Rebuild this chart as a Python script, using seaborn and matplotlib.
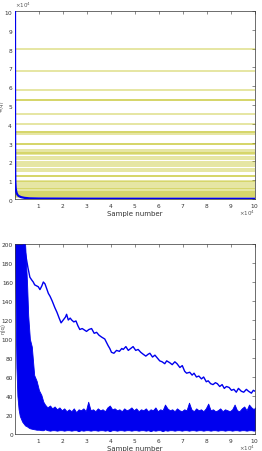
import numpy as np
import pandas as pd
import matplotlib
matplotlib.use("Agg")
import matplotlib.pyplot as plt
import seaborn as sns

sns.set_theme(style="white")
plt.rcParams['font.family'] = ['DejaVu Sans']

# ---------------- data ----------------
# top panel: constant levels (yellow traces), in raw units
top_levels = [80000, 68100, 58100, 52600, 52600, 45100, 40000, 35700, 34700, 29200,
              29200, 25200, 23800, 22400, 19900, 17800, 15800, 15000, 12500, 12500,
              9500, 8100, 6700, 5500, 4200, 3000, 1900, 900, 2600, 24500, 35700,
              1400, 3500, 6100, 8800, 18600, 21500, 25800]
# top panel: fast decaying blue trace
top_blue_x = [0, 30, 80, 150, 300, 600, 1000, 1500, 2500, 4000, 6000, 10000, 30000, 60000, 100000]
top_blue_y = [120000, 40000, 15000, 9000, 5500, 3500, 2300, 1600, 1000, 600, 350, 250, 180, 150, 130]

# bottom panel: slow trace
slow_x = [3700, 4500, 5400, 6200, 7000, 7600, 8200, 9700, 10400, 11200, 11800, 12500, 13200, 13900,
          14600, 15500, 16600, 17500, 18400, 19200, 20100, 21000, 21500, 22200, 23000, 23600, 24500,
          25400, 26200, 27000, 28000, 29800, 30800, 31900, 33000, 34000, 35000, 36100, 37400, 38000,
          38800, 39500, 40200, 41200, 42300, 43500, 44500, 45100, 46200, 47200, 48200, 49200, 50300,
          51300, 52400, 53400, 54500, 55500, 56200, 57300, 58300, 59300, 60300, 61300, 62400, 63200,
          64500, 65500, 66600, 67500, 68700, 69700, 70700, 71500, 72800, 73800, 74600, 75600, 76600,
          77700, 78600, 79700, 80500, 81500, 82500, 83500, 84300, 85300, 86300, 87200, 88100, 89200,
          90200, 91200, 92200, 93100, 94300, 95300, 96400, 97300, 98500, 99300, 100000]
slow_y = [200, 188, 175, 165, 162, 160, 157, 155, 152, 156, 160, 158, 153, 148,
          145, 140, 133, 128, 122, 117, 120, 123, 126, 120, 122, 120, 118,
          119, 114, 110, 111, 108, 110, 111, 106, 107, 104, 102, 100, 97,
          93, 90, 86, 85, 88, 87, 90, 89, 92, 88, 90, 92, 88,
          89, 86, 84, 82, 84, 85, 81, 83, 80, 77, 76, 74, 77,
          75, 73, 76, 74, 70, 72, 66, 64, 65, 62, 64, 60, 61,
          58, 60, 55, 56, 53, 52, 54, 53, 50, 52, 48, 50, 49,
          46, 47, 44, 48, 45, 44, 47, 45, 43, 46, 45]

# bottom panel: envelope of the fast-converging trace bundle
band_x = [0, 300, 600, 1000, 1500, 2000, 3000, 4200, 5000, 5500, 6200, 7000, 8000, 9000, 10000,
          11000, 11800, 12500, 13500, 14600, 15500, 16500, 17500, 18500, 19500, 20500, 21500, 22500,
          23500, 24500, 25500, 26500, 27500, 28500, 29500, 30500, 31500, 32500, 33500, 34500, 35500,
          36500, 37500, 38500, 39500, 40500, 41500, 42500, 43500, 44500, 45500, 46500, 47500, 48500,
          49500, 50500, 51500, 52500, 53500, 54500, 55500, 56500, 57500, 58500, 59500, 60500, 61500,
          62500, 63500, 64500, 65500, 66500, 67500, 68500, 69500, 70500, 71500, 72500, 73500, 74500,
          75500, 76500, 77500, 78500, 79500, 80500, 81500, 82500, 83500, 84500, 85500, 86500, 87500,
          88500, 89500, 90500, 91500, 92500, 93500, 94500, 95500, 96500, 97500, 98500, 99500, 100000]
band_hi = [200, 200, 200, 200, 200, 200, 200, 200, 160, 125, 100, 92, 62, 56, 46,
           41, 34, 31, 28, 30, 27, 29, 26, 28, 25, 27, 24, 26,
           24, 27, 23, 26, 25, 27, 24, 34, 25, 26, 24, 27, 25,
           26, 24, 28, 30, 26, 27, 25, 26, 24, 27, 25, 26, 28,
           25, 27, 24, 26, 25, 27, 24, 26, 25, 28, 24, 26, 25,
           31, 27, 25, 26, 24, 27, 25, 24, 26, 25, 33, 26, 24,
           27, 25, 26, 24, 27, 32, 25, 26, 24, 25, 27, 24, 26,
           25, 24, 26, 31, 25, 24, 27, 29, 25, 31, 28, 26, 28]
band_lo = [200, 120, 70, 40, 26, 19, 13, 9, 8, 7, 6, 5.5, 5, 4.5, 4.5,
           4, 4, 5, 4, 3.5, 4, 4, 3.5, 4, 4, 3.5, 4, 4,
           3.5, 4, 4, 3, 4, 3.5, 4, 4, 3.5, 4, 4, 3.5, 4,
           4, 3.5, 4, 3, 4, 4, 3.5, 4, 4, 3.5, 4, 4, 3.5,
           4, 4, 3.5, 4, 4, 3.5, 4, 3, 4, 3.5, 4, 4, 3,
           4, 3.5, 4, 4, 3.5, 4, 4, 3.5, 4, 4, 3.5, 4, 4,
           3.5, 4, 4, 3.5, 4, 4, 3.5, 4, 4, 3.5, 4, 4, 3.5,
           4, 4, 3.5, 4, 4, 3.5, 4, 4, 3.5, 4, 4, 3.5, 4]

x_ticks = [10000, 20000, 30000, 40000, 50000, 60000, 70000, 80000, 90000, 100000]
top_yticks = [0, 10000, 20000, 30000, 40000, 50000, 60000, 70000, 80000, 90000, 100000]
bot_yticks = [0, 20, 40, 60, 80, 100, 120, 140, 160, 180, 200]

# ---------------- figure ----------------
W, H = 262, 452
fig = plt.figure(figsize=(W / 100, H / 100), dpi=100)
ax1 = fig.add_axes([15 / W, 1 - 200 / H, 240 / W, 188 / H])
ax2 = fig.add_axes([15 / W, 1 - 435 / H, 240 / W, 190 / H])

blue = '#0000ee'
olive = (0.74, 0.74, 0.05)

# top
for lv in top_levels:
    ax1.plot([0, 100000], [lv, lv], color=olive, alpha=0.45, lw=1.2, zorder=1)
df_top = pd.DataFrame({'x': top_blue_x, 'y': top_blue_y})
sns.lineplot(data=df_top, x='x', y='y', ax=ax1, color=blue, lw=1.6, zorder=3)

# bottom
ax2.fill_between(band_x, band_lo, band_hi, color=blue, lw=0.6, zorder=2)
df_slow = pd.DataFrame({'x': slow_x, 'y': slow_y})
sns.lineplot(data=df_slow, x='x', y='y', ax=ax2, color=blue, lw=1.0, zorder=3)

tick_kw = dict(direction='in', length=2, width=0.4, labelsize=4.2, colors='#333333',
               top=True, right=True, pad=1.5)
for ax, yt, ylim, ylab, lx, ly in [(ax1, top_yticks, (0, 100000), 'Ψ(q)', -0.047, 0.5),
                                    (ax2, bot_yticks, (0, 200), 'η(q)', -0.04, 0.56)]:
    ax.set_xlim(0, 100000)
    ax.set_ylim(*ylim)
    ax.set_xticks(x_ticks)
    ax.set_yticks(yt)
    ax.tick_params(axis='both', **tick_kw)
    ax.ticklabel_format(axis='x', style='sci', scilimits=(4, 4), useMathText=True)
    ax.xaxis.get_offset_text().set_visible(False)
    ax.text(1.0, -0.07, r'$\times10^{4}$', transform=ax.transAxes, ha='right', va='center',
            fontsize=4.0, color='#555555')
    ax.set_xlabel('Sample number', fontsize=5.0, color='#333333', labelpad=0.5)
    ax.set_ylabel(ylab, fontsize=3.8, color='#555555')
    ax.yaxis.set_label_coords(lx, ly)
    for s in ax.spines.values():
        s.set_linewidth(0.5)
        s.set_color('#333333')
    ax.set_facecolor('white')

ax1.ticklabel_format(axis='y', style='sci', scilimits=(4, 4), useMathText=True)
ax1.yaxis.get_offset_text().set_fontsize(4.0)
ax1.yaxis.get_offset_text().set_color('#555555')

fig.savefig('out.png', dpi=100, facecolor='white')
